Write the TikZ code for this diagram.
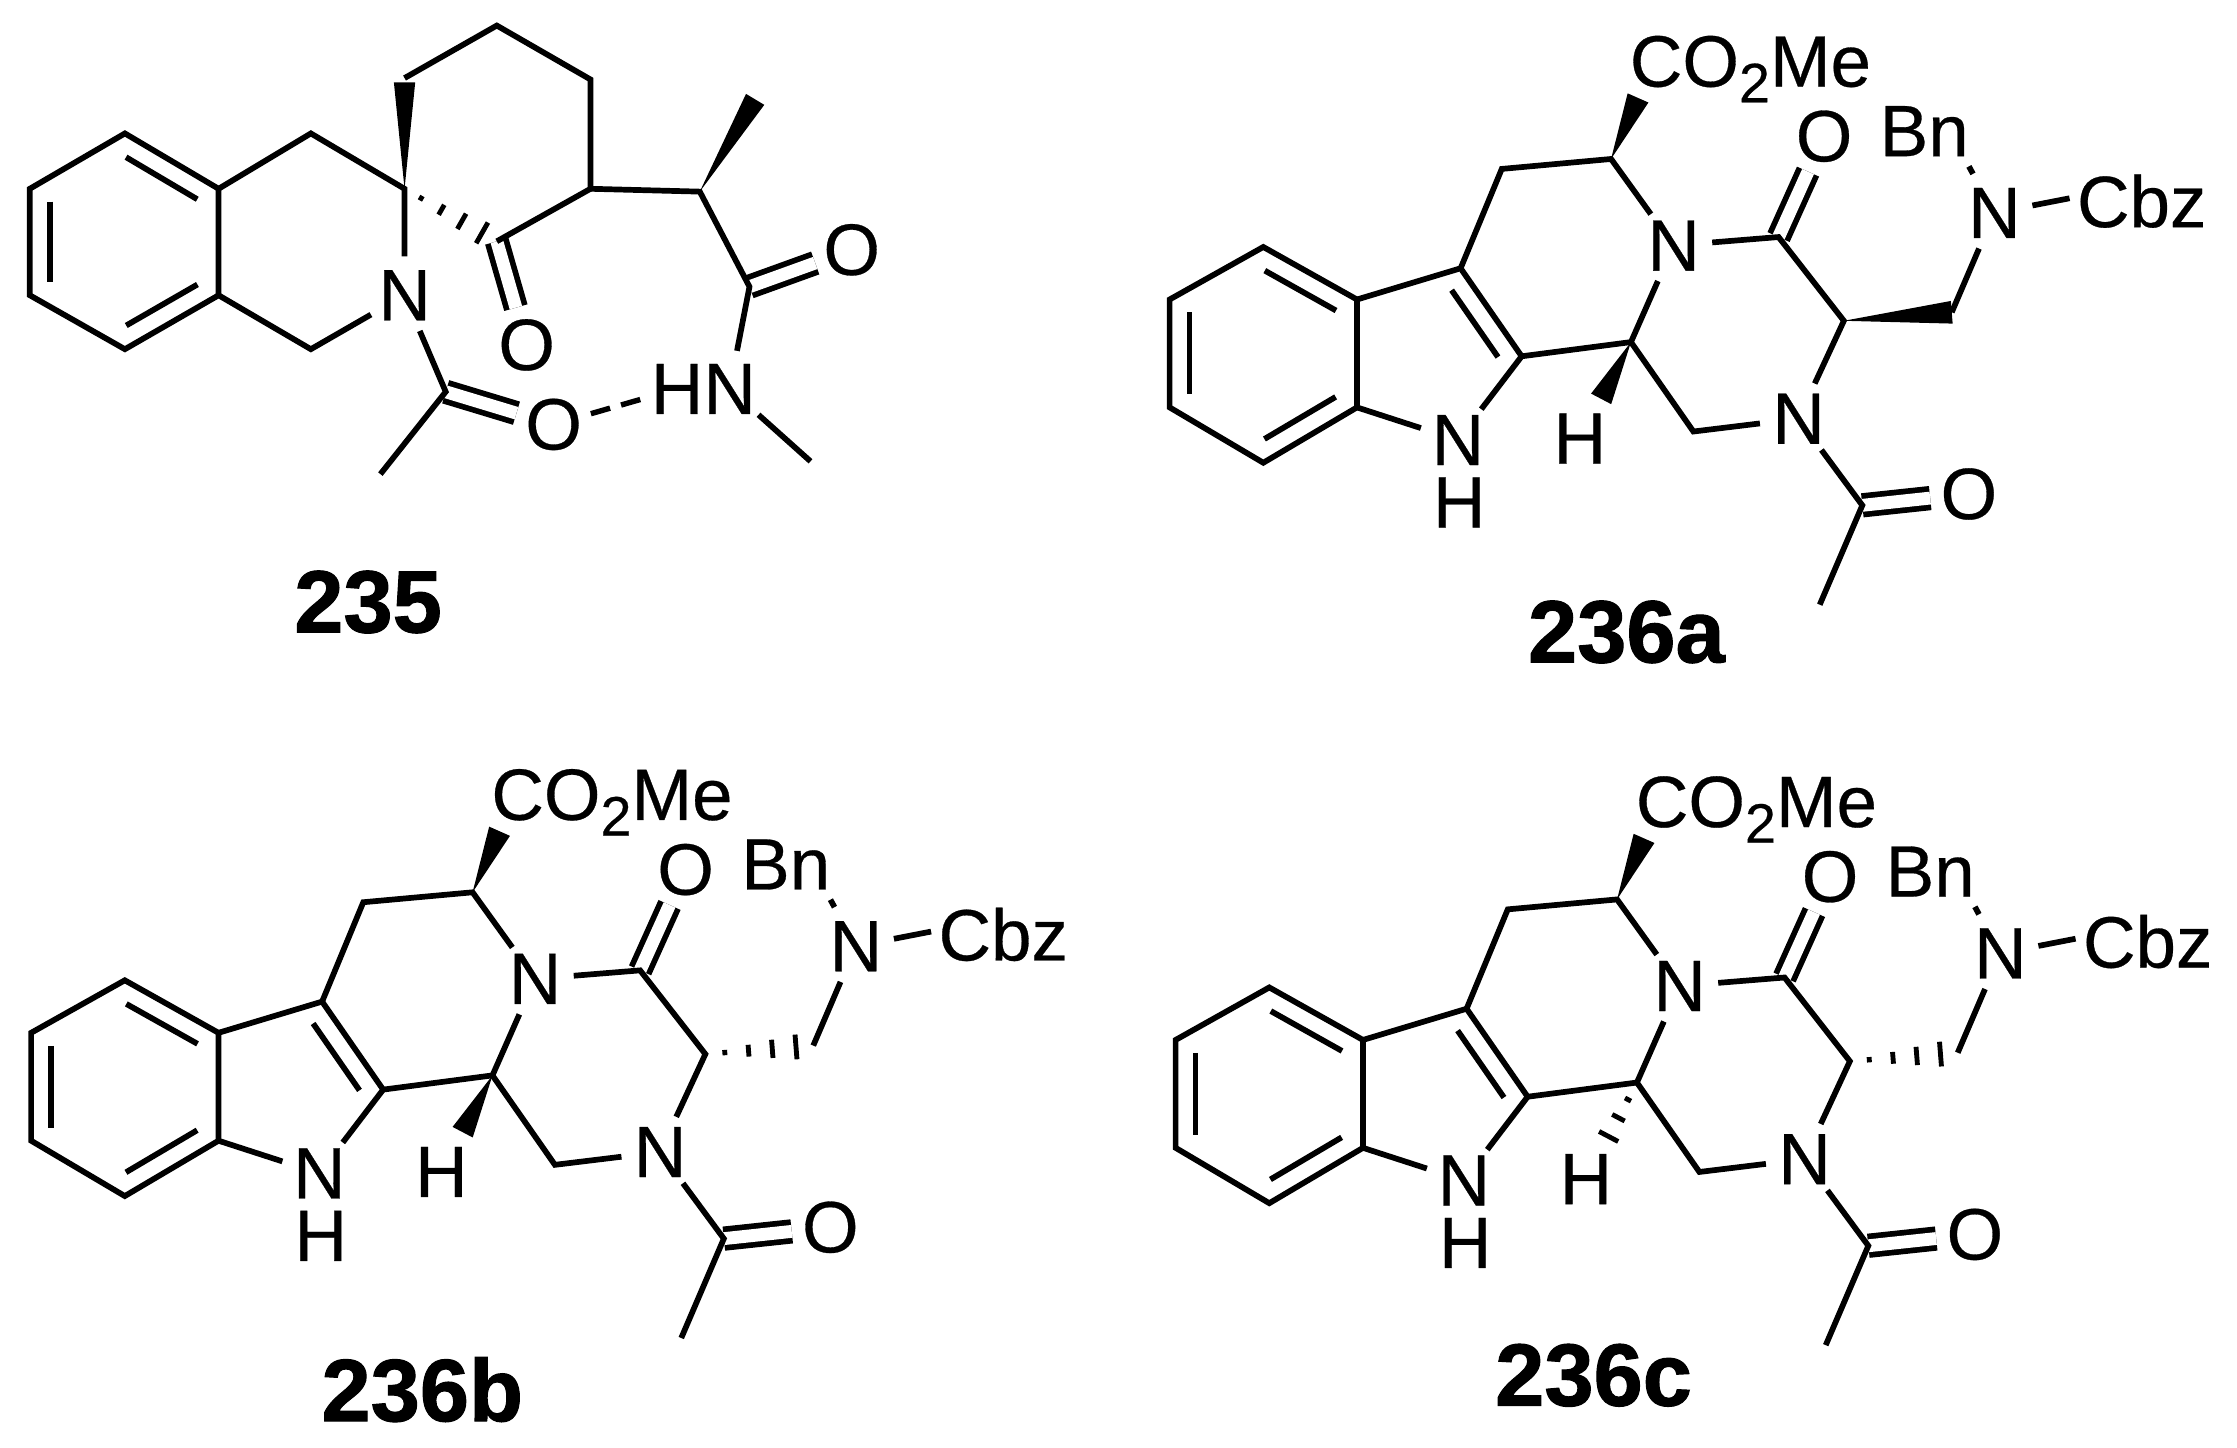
\documentclass[tikz,border=0pt]{standalone}
\usepackage{fontspec}
\setmainfont{Liberation Sans}
\newfontfamily\atomff[FakeBold=0.4]{Liberation Sans}
\newfontfamily\labff[BoldFeatures={FakeBold=1.2}]{Liberation Sans}
\usetikzlibrary{calc}
\newcommand\atomfont{\atomff\fontsize{51}{51}\selectfont}
\newcommand\subfont{\fontsize{39}{39}\selectfont}
\newcommand\labfont{\labff\fontsize{62}{62}\selectfont\bfseries}
\tikzset{
  bond/.style={line width=4pt,line join=miter,draw=black},
  dbl/.style={line width=4pt,double=white,double distance=9pt,draw=black},
  atom/.style={circle,inner sep=0pt,minimum size=54pt,font=\atomfont,text=black},
  grp/.style={inner sep=0pt,anchor=base west,font=\atomfont,text=black},
  lab/.style={inner sep=0pt,font=\labfont,text=black}
}
% inner line of a ring double bond, a->b counter-clockwise round the ring
\newcommand\innerb[2]{\draw[bond] ($(#1)!.12!(#2)!14pt!90:(#2)$) -- ($(#1)!.88!(#2)!14pt!90:(#2)$);}
% solid wedge from #1 (tip) to #2 (wide end) of half width #3
\newcommand\wedgeb[3]{\fill[black] (#1) -- ($(#2)!#3!90:(#1)$) -- ($(#2)!#3!-90:(#1)$) -- cycle;}
% hashed wedge from #1 (tip) to #2, half width #3 at the far end, stripes at #4
\newcommand\hashb[4]{\foreach \t in {#4}{
  \draw[line width=3.4pt] ($(#1)!\t!(#2)!{\t*#3}!90:(#2)$) -- ($(#1)!\t!(#2)!{\t*#3}!-90:(#2)$);}}
% common skeleton of 236a-c
\newcommand\skel{
  \coordinate (b1) at (886,174); \coordinate (b2) at (820,211);
  \coordinate (b3) at (820,287); \coordinate (b4) at (886,326);
  \coordinate (b5) at (952,287); \coordinate (b6) at (952,211);
  \coordinate (c3) at (1025,189); \coordinate (c2) at (1068,251);
  \coordinate (ch2) at (1054,119); \coordinate (cha) at (1131,112);
  \coordinate (cwe) at (1150,69);
  \coordinate (co) at (1249,167); \coordinate (cs) at (1295,226);
  \coordinate (cm) at (1371,220); \coordinate (cb) at (1145,241);
  \coordinate (cd) at (1189,304); \coordinate (ac) at (1308,356);
  \coordinate (me) at (1278,426); \coordinate (hw) at (1124,281);
  \node[atom] (nh) at (1023,310) {N};
  \node[atom] (hh) at (1024,354) {H};
  \node[atom] (n1) at (1175,173) {N};
  \node[atom] (o1) at (1281,96) {O};
  \node[atom] (n2) at (1263,295) {N};
  \node[atom] (o2) at (1383,348) {O};
  \node[atom] (n3) at (1401,150) {N};
  \node[atom] (hb) at (1109,309) {H};
  \node[grp] (est) at (1144,61) {CO\raisebox{-11pt}{\subfont 2}Me};
  \node[grp] (bn) at (1320,110) {Bn};
  \node[grp] (cbz) at (1459,160) {Cbz};
  \draw[dbl] (co) -- (o1);
  \draw[dbl] (ac) -- (o2);
  \draw[bond] (b1) -- (b2) -- (b3) -- (b4) -- (b5) -- (b6) -- cycle;
  \draw[bond] (b5) -- (nh) -- (c2) -- (c3) -- (b6);
  \draw[bond] (c3) -- (ch2) -- (cha) -- (n1) -- (co) -- (cs) -- (n2) -- (cd) -- (cb) -- (n1);
  \draw[bond] (c2) -- (cb);
  \draw[bond] (n2) -- (ac) -- (me);
  \draw[bond] (cm) -- (n3);
  \draw[bond,shorten >=4pt] ([yshift=-7pt]bn.south east) -- (n3);
  \draw[bond] (n3) -- ([xshift=-5pt,yshift=2pt]cbz.west);
  \innerb{b2}{b3} \innerb{b4}{b5} \innerb{b6}{b1} \innerb{c2}{c3}
  \wedgeb{cha}{cwe}{8pt}
}
\begin{document}
\begin{tikzpicture}[x=1pt,y=-1pt]
\useasboundingbox (0,0) rectangle (1568,1014.3);
% ---------- 235
\begin{scope}[name prefix=m-,scale=.995]
  \coordinate (a1) at (88,94); \coordinate (a2) at (21,133);
  \coordinate (a3) at (21,208); \coordinate (a4) at (88,246);
  \coordinate (a5) at (154,208); \coordinate (a6) at (154,133);
  \coordinate (t) at (219,94); \coordinate (u) at (219,246);
  \coordinate (sp) at (285,133); \coordinate (w1) at (285,58);
  \coordinate (r1) at (285,55); \coordinate (r2) at (350,18);
  \coordinate (r3) at (416,56); \coordinate (r4) at (416,133);
  \coordinate (k) at (350,170); \coordinate (ch) at (493,135);
  \coordinate (w2) at (532,70); \coordinate (am) at (528,202);
  \coordinate (ac) at (314,276); \coordinate (me) at (268,334);
  \coordinate (nm) at (571,325);
  \node[atom] (n) at (285,208) {N};
  \node[atom] (ok) at (371,243) {O};
  \node[atom] (oa) at (600,176) {O};
  \node[atom] (oc) at (390,299) {O};
  \node[atom,minimum size=40pt] (h) at (477,274) {H};
  \node[atom] (na) at (514,274) {N};
  \draw[dbl] (k) -- (ok);
  \draw[dbl] (am) -- (oa);
  \draw[dbl] (ac) -- (oc);
  \draw[bond] (a1) -- (a2) -- (a3) -- (a4) -- (a5) -- (a6) -- cycle;
  \draw[bond] (a6) -- (t) -- (sp) -- (n) -- (u) -- (a5);
  \draw[bond] (r1) -- (r2) -- (r3) -- (r4) -- (k);
  \draw[bond] (r4) -- (ch) -- (am) -- (na) -- (nm);
  \draw[bond] (n) -- (ac) -- (me);
  \draw[line width=3.8pt,dash pattern=on 14pt off 8pt] (oc) -- (h);
  \innerb{a2}{a3} \innerb{a4}{a5} \innerb{a6}{a1}
  \wedgeb{sp}{w1}{7.5pt}
  \wedgeb{ch}{w2}{7.5pt}
  \hashb{sp}{k}{10pt}{.18,.40,.62,.84}
\end{scope}
% ---------- 236a
\begin{scope}[name prefix=a-,xshift=3.96pt,scale=.995]
  \skel
  \wedgeb{cs}{cm}{8pt}
  \wedgeb{cb}{hw}{8pt}
\end{scope}
% ---------- 236b
\begin{scope}[shift={(-798,514)},xshift=3.96pt,scale=.995,name prefix=b-]
  \skel
  \hashb{cs}{cm}{10.4pt}{.18,.40,.62,.84}
  \wedgeb{cb}{hw}{8pt}
\end{scope}
% ---------- 236c
\begin{scope}[shift={(4.2,519)},xshift=3.96pt,scale=.995,name prefix=c-]
  \skel
  \hashb{cs}{cm}{10.4pt}{.18,.40,.62,.84}
  \hashb{cb}{hw}{8pt}{.3,.62,.95}
\end{scope}
\node[lab] (l1) at (258,422) {235};
\node[lab] (l2) at (1140,443) {236a};
\node[lab] (l3) at (296,974) {236b};
\node[lab] (l4) at (1117,964) {236c};
\end{tikzpicture}
\end{document}
